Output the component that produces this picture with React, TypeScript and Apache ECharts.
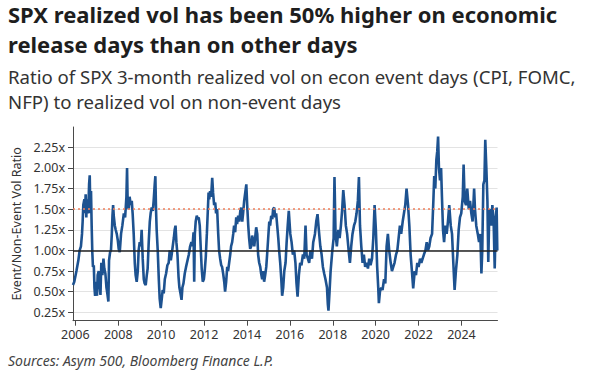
import React, { useEffect, useRef } from "react";
import * as echarts from "echarts";

const titleLines = [
  "SPX realized vol has been 50% higher on economic",
  "release days than on other days",
];
const subtitleLines = [
  "Ratio of SPX 3-month realized vol on econ event days (CPI, FOMC,",
  "NFP) to realized vol on non-event days",
];
const sourceText = "Sources: Asym 500, Bloomberg Finance L.P.";
const yAxisName = "Event/Non-Event Vol Ratio";

const xTicks = [2006, 2008, 2010, 2012, 2014, 2016, 2018, 2020, 2022, 2024];
const yTicks = [0.25, 0.5, 0.75, 1.0, 1.25, 1.5, 1.75, 2.0, 2.25];
const referenceLevel = 1.0;
const averageLevel = 1.5;

// decimal years
const dates = [
  2005.89, 2005.95, 2006.05, 2006.14, 2006.2, 2006.26, 2006.31, 2006.34, 2006.37, 2006.42,
  2006.45, 2006.48, 2006.51, 2006.54, 2006.58, 2006.61, 2006.64, 2006.67, 2006.7, 2006.73,
  2006.76, 2006.79, 2006.82, 2006.86, 2006.89, 2006.92, 2006.95, 2006.98, 2007.01, 2007.04,
  2007.09, 2007.14, 2007.17, 2007.21, 2007.26, 2007.31, 2007.35, 2007.4, 2007.45, 2007.49,
  2007.54, 2007.57, 2007.62, 2007.66, 2007.7, 2007.73, 2007.76, 2007.79, 2007.84, 2007.88,
  2007.93, 2007.98, 2008.02, 2008.07, 2008.13, 2008.19, 2008.26, 2008.32, 2008.38, 2008.41,
  2008.44, 2008.49, 2008.53, 2008.58, 2008.63, 2008.67, 2008.72, 2008.77, 2008.81, 2008.86,
  2008.91, 2008.95, 2009.0, 2009.05, 2009.09, 2009.14, 2009.19, 2009.23, 2009.28, 2009.33,
  2009.37, 2009.42, 2009.47, 2009.51, 2009.56, 2009.61, 2009.65, 2009.7, 2009.73, 2009.76,
  2009.79, 2009.84, 2009.89, 2009.93, 2009.98, 2010.03, 2010.07, 2010.12, 2010.17, 2010.23,
  2010.29, 2010.35, 2010.4, 2010.45, 2010.49, 2010.54, 2010.59, 2010.63, 2010.67, 2010.71,
  2010.76, 2010.81, 2010.85, 2010.9, 2010.95, 2010.99, 2011.04, 2011.1, 2011.16, 2011.23,
  2011.29, 2011.35, 2011.41, 2011.46, 2011.51, 2011.54, 2011.57, 2011.61, 2011.66, 2011.71,
  2011.75, 2011.8, 2011.85, 2011.89, 2011.94, 2011.99, 2012.03, 2012.08, 2012.13, 2012.17,
  2012.21, 2012.24, 2012.28, 2012.33, 2012.38, 2012.42, 2012.47, 2012.52, 2012.56, 2012.61,
  2012.66, 2012.7, 2012.75, 2012.8, 2012.84, 2012.89, 2012.94, 2012.98, 2013.03, 2013.08,
  2013.12, 2013.17, 2013.22, 2013.26, 2013.31, 2013.36, 2013.4, 2013.45, 2013.5, 2013.54,
  2013.59, 2013.64, 2013.69, 2013.73, 2013.78, 2013.82, 2013.87, 2013.92, 2013.97, 2014.01,
  2014.06, 2014.1, 2014.15, 2014.2, 2014.24, 2014.29, 2014.34, 2014.38, 2014.43, 2014.48,
  2014.52, 2014.57, 2014.62, 2014.66, 2014.71, 2014.76, 2014.8, 2014.85, 2014.9, 2014.94,
  2014.99, 2015.04, 2015.08, 2015.13, 2015.18, 2015.22, 2015.27, 2015.32, 2015.36, 2015.41,
  2015.46, 2015.5, 2015.55, 2015.6, 2015.64, 2015.69, 2015.74, 2015.8, 2015.85, 2015.9,
  2015.95, 2016.02, 2016.08, 2016.14, 2016.2, 2016.26, 2016.31, 2016.36, 2016.42, 2016.48,
  2016.54, 2016.61, 2016.67, 2016.73, 2016.78, 2016.84, 2016.9, 2016.96, 2017.03, 2017.09,
  2017.17, 2017.23, 2017.29, 2017.35, 2017.42, 2017.48, 2017.54, 2017.6, 2017.66, 2017.73,
  2017.77, 2017.8, 2017.85, 2017.9, 2017.98, 2018.04, 2018.08, 2018.13, 2018.19, 2018.26,
  2018.32, 2018.38, 2018.44, 2018.49, 2018.55, 2018.61, 2018.67, 2018.74, 2018.8, 2018.86,
  2018.92, 2018.99, 2019.05, 2019.11, 2019.17, 2019.22, 2019.27, 2019.33, 2019.39, 2019.45,
  2019.51, 2019.58, 2019.64, 2019.7, 2019.76, 2019.83, 2019.89, 2019.95, 2020.01, 2020.07,
  2020.12, 2020.15, 2020.2, 2020.26, 2020.32, 2020.39, 2020.45, 2020.51, 2020.57, 2020.63,
  2020.7, 2020.76, 2020.82, 2020.88, 2020.95, 2021.01, 2021.07, 2021.13, 2021.19, 2021.26,
  2021.32, 2021.38, 2021.44, 2021.51, 2021.57, 2021.63, 2021.69, 2021.75, 2021.82, 2021.88,
  2021.94, 2022.0, 2022.07, 2022.13, 2022.19, 2022.25, 2022.32, 2022.38, 2022.44, 2022.5,
  2022.56, 2022.63, 2022.69, 2022.73, 2022.78, 2022.83, 2022.87, 2022.91, 2022.95, 2023.0,
  2023.05, 2023.09, 2023.14, 2023.19, 2023.25, 2023.31, 2023.37, 2023.43, 2023.5, 2023.56,
  2023.62, 2023.68, 2023.74, 2023.81, 2023.87, 2023.93, 2023.99, 2024.06, 2024.1, 2024.15,
  2024.21, 2024.27, 2024.34, 2024.4, 2024.46, 2024.52, 2024.59, 2024.63, 2024.69, 2024.76,
  2024.82, 2024.88, 2024.93, 2024.97, 2025.02, 2025.07, 2025.11, 2025.16, 2025.21, 2025.25,
  2025.3, 2025.35, 2025.39, 2025.44, 2025.5, 2025.55, 2025.6, 2025.64, 2025.67,
];

const volRatio = [
  0.58, 0.62, 0.75, 0.88, 1.0, 1.05, 1.2, 1.35, 1.55, 1.62,
  1.45, 1.68, 1.4, 1.62, 1.45, 1.55, 1.8, 1.91, 1.45, 1.72,
  1.3, 0.98, 0.8, 0.82, 0.55, 0.45, 0.62, 0.55, 0.45, 0.7,
  0.75, 0.55, 0.46, 0.85, 0.7, 0.9, 0.78, 0.72, 0.55, 0.48,
  0.38, 0.88, 0.98, 1.0, 1.2, 1.42, 1.55, 1.42, 1.3, 1.25,
  1.2, 1.12, 1.02, 0.98, 1.2, 1.3, 1.45, 1.4, 1.65, 2.0,
  1.55, 1.5, 1.65, 1.55, 1.6, 1.45, 1.2, 0.85, 0.7, 0.62,
  0.75, 1.0, 1.1, 1.05, 1.25, 0.9, 0.65, 0.6, 0.58, 0.7,
  0.78, 1.1, 1.35, 1.45, 1.52, 1.48, 1.6, 1.8, 1.9, 1.5,
  1.25, 1.0, 0.65, 0.42, 0.3, 0.42, 0.52, 0.48, 0.65, 0.72,
  0.82, 0.85, 1.0, 0.88, 0.95, 1.05, 1.15, 1.25, 1.3, 1.1,
  0.95, 0.68, 0.55, 0.48, 0.4, 0.55, 0.6, 0.72, 0.8, 0.88,
  0.95, 1.05, 1.1, 1.05, 1.22, 0.62, 1.2, 1.35, 1.42, 1.38,
  1.4, 1.3, 1.0, 0.78, 0.62, 0.65, 0.75, 0.92, 1.2, 1.45,
  1.7, 1.62, 1.72, 1.65, 1.88, 1.7, 1.55, 1.58, 1.45, 1.5,
  1.2, 1.0, 0.9, 0.82, 0.8, 0.72, 0.62, 0.5, 0.62, 0.8,
  0.75, 0.85, 0.95, 1.05, 1.1, 1.2, 1.3, 1.22, 1.4, 1.32,
  1.42, 1.35, 1.48, 1.52, 1.35, 1.45, 1.6, 1.7, 1.8, 1.55,
  1.3, 1.15, 1.02, 1.05, 1.18, 1.12, 1.05, 1.15, 1.28, 1.2,
  0.95, 0.85, 0.8, 0.72, 0.65, 0.75, 0.62, 0.7, 0.8, 0.95,
  1.15, 1.35, 1.3, 1.42, 1.38, 1.5, 1.52, 1.4, 1.45, 1.3,
  1.15, 1.0, 0.85, 0.65, 0.45, 0.55, 0.75, 0.85, 1.1, 1.3,
  1.48, 1.2, 1.1, 0.95, 1.0, 0.85, 0.6, 0.44, 0.7, 0.85,
  0.82, 0.95, 0.9, 1.3, 0.95, 0.9, 0.85, 1.0, 0.9, 1.1,
  1.2, 1.35, 1.44, 1.25, 1.05, 0.95, 0.8, 0.72, 0.65, 0.55,
  0.35, 0.27, 0.5, 0.75, 1.0, 1.15, 1.89, 1.2, 1.05, 1.25,
  1.15, 1.3, 1.5, 1.73, 1.55, 1.3, 1.2, 1.0, 0.85, 1.05,
  1.2, 1.3, 1.35, 1.45, 1.6, 1.89, 1.3, 1.05, 0.85, 0.95,
  0.8, 0.85, 0.78, 0.9, 0.82, 0.9, 1.15, 1.55, 1.25, 0.8,
  0.55, 0.36, 0.5, 0.55, 0.52, 0.65, 0.6, 1.05, 1.2, 1.0,
  0.85, 0.75, 0.8, 0.85, 0.95, 1.0, 1.15, 1.3, 1.2, 1.35,
  1.45, 1.55, 1.75, 1.55, 1.3, 0.95, 0.75, 0.54, 0.75, 0.7,
  0.85, 0.8, 0.9, 0.85, 0.9, 0.95, 1.0, 1.1, 1.0, 1.05,
  1.15, 1.2, 1.6, 1.9, 1.75, 2.1, 2.2, 2.38, 2.0, 1.85,
  2.0, 1.65, 1.25, 1.1, 1.3, 1.2, 1.35, 1.55, 1.3, 1.2,
  0.85, 0.52, 0.75, 0.95, 1.25, 1.4, 1.45, 1.65, 2.04, 1.6,
  1.55, 1.75, 1.5, 1.6, 1.45, 1.35, 1.75, 1.5, 1.3, 1.2,
  1.1, 1.2, 0.72, 1.0, 1.8, 1.85, 2.34, 2.0, 1.6, 0.86,
  1.5, 1.45, 1.3, 1.55, 1.35, 0.78, 1.4, 1.52, 1.0,
];

const FONT = "'Noto Sans', 'Open Sans', sans-serif";

export default function App() {
  const ref = useRef<HTMLDivElement>(null);
  useEffect(() => {
    if (!ref.current) return;
    const chart = echarts.init(ref.current, undefined, { renderer: "svg" });
    const seriesData = dates.map((d, i) => [d, volRatio[i]]);
    const option: any = {
      animation: false,
      backgroundColor: "#ffffff",
      textStyle: { fontFamily: FONT },
      grid: {
        left: 73,
        right: 107.5,
        top: 127,
        bottom: 52.3,
        containLabel: false,
        outerBoundsMode: "none",
      },
      xAxis: {
        type: "value",
        min: 2005.89,
        max: 2025.68,
        axisLine: { show: true, lineStyle: { color: "#4a4a4a", width: 1 } },
        axisTick: {
          show: true,
          customValues: xTicks,
          length: 5,
          lineStyle: { color: "#4a4a4a", width: 1 },
        },
        axisLabel: {
          customValues: xTicks,
          formatter: (v: number) => String(Math.round(v)),
          fontSize: 12.5,
          color: "#333333",
          margin: 7,
          fontFamily: FONT,
        },
        splitLine: { show: false },
      },
      yAxis: {
        type: "value",
        min: 0.148,
        max: 2.496,
        name: yAxisName,
        nameLocation: "middle",
        nameRotate: 90,
        nameGap: 49,
        nameTextStyle: { fontSize: 12.5, color: "#333333", fontFamily: FONT },
        axisLine: { show: true, lineStyle: { color: "#4a4a4a", width: 1 } },
        axisTick: {
          show: true,
          customValues: yTicks,
          length: 5,
          lineStyle: { color: "#4a4a4a", width: 1 },
        },
        axisLabel: {
          customValues: yTicks,
          formatter: (v: number) => v.toFixed(2) + "x",
          fontSize: 12.5,
          color: "#333333",
          margin: 8,
          fontFamily: FONT,
        },
        splitLine: { show: true, lineStyle: { color: "#e3e3e3", width: 1 } },
      },
      series: [
        {
          type: "line",
          data: seriesData,
          showSymbol: false,
          symbol: "none",
          lineStyle: { color: "#1d5290", width: 2.6 },
          markLine: {
            silent: true,
            symbol: "none",
            label: { show: false },
            data: [
              { yAxis: averageLevel, lineStyle: { color: "#f0805c", type: [2, 3], width: 1.5 } },
              { yAxis: referenceLevel, lineStyle: { color: "#222222", type: "solid", width: 1.5 } },
            ],
          },
        },
      ],
      graphic: [
        {
          type: "text",
          left: 8,
          top: 3,
          style: {
            text: titleLines[0],
            font: `bold 22px ${FONT}`,
            fill: "#1e1e1e",
          },
        },
        {
          type: "text",
          left: 8,
          top: 33,
          style: {
            text: titleLines[1],
            font: `bold 22px ${FONT}`,
            fill: "#1e1e1e",
          },
        },
        {
          type: "text",
          left: 8,
          top: 67,
          style: {
            text: subtitleLines[0],
            font: `18.6px ${FONT}`,
            fill: "#333333",
          },
        },
        {
          type: "text",
          left: 8,
          top: 92,
          style: {
            text: subtitleLines[1],
            font: `18.6px ${FONT}`,
            fill: "#333333",
          },
        },
        {
          type: "text",
          left: 8,
          top: 353,
          style: {
            text: sourceText,
            font: `italic 14px ${FONT}`,
            fill: "#444444",
          },
        },
      ],
    };
    chart.setOption(option);
    return () => chart.dispose();
  }, []);
  return (
    <div
      ref={ref}
      style={{ position: "fixed", left: 0, top: 0, width: 605, height: 373, background: "#fff" }}
    />
  );
}
